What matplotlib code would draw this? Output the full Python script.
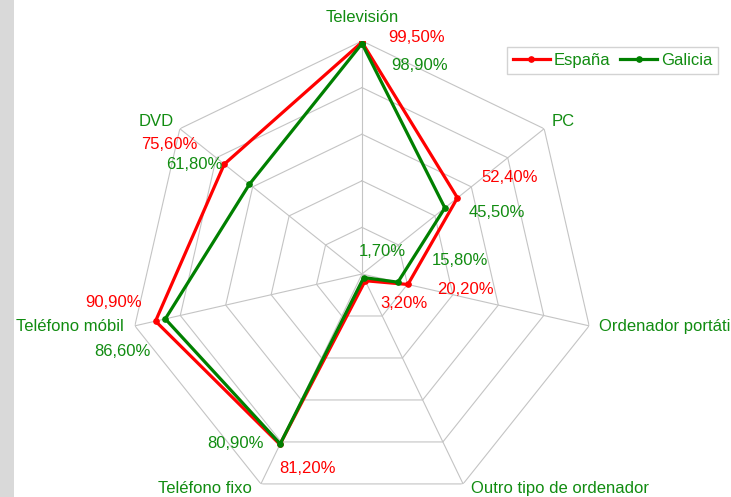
import numpy as np
import matplotlib
matplotlib.use('Agg')
import matplotlib.pyplot as plt
from matplotlib.patches import Rectangle

plt.rcParams['font.family'] = ['Liberation Sans', 'DejaVu Sans']

# data (percent)
categories = ['Televisión', 'PC', 'Ordenador portátil', 'Outro tipo de ordenador',
              'Teléfono fixo', 'Teléfono móbil', 'DVD']
espana = [99.5, 52.4, 20.2, 3.2, 81.2, 90.9, 75.6]
galicia = [98.9, 45.5, 15.8, 1.7, 80.9, 86.6, 61.8]
espana_labels = ['99,50%', '52,40%', '20,20%', '3,20%', '81,20%', '90,90%', '75,60%']
galicia_labels = ['98,90%', '45,50%', '15,80%', '1,70%', '80,90%', '86,60%', '61,80%']

RED = '#ff0000'
GREEN = '#008000'
TXT_GREEN = '#118c11'
GRID = '#c4c4c4'

fig = plt.figure(figsize=(7.31, 4.97), dpi=100)
fig.patches.append(Rectangle((0, 0), 14 / 731, 1, transform=fig.transFigure,
                             facecolor='#d9d9d9', edgecolor='none', zorder=0))

# center at (362, 274) px, radius 233 px
ax = fig.add_axes([(362 - 233) / 731, (223 - 233) / 497, 466 / 731, 466 / 497],
                  projection='polar')
ax.set_theta_zero_location('N')
ax.set_theta_direction(-1)
ax.set_ylim(0, 100)
ax.grid(False)
ax.spines['polar'].set_visible(False)
ax.set_xticks([])
ax.set_yticks([])
ax.patch.set_alpha(0)

n = len(categories)
ang = np.arange(n) * 2 * np.pi / n
ang_c = np.append(ang, ang[0])

# heptagonal grid
for r in [20, 40, 60, 80, 100]:
    ax.plot(ang_c, [r] * (n + 1), color=GRID, lw=0.8, zorder=1)
for a in ang:
    ax.plot([a, a], [0, 100], color=GRID, lw=0.8, zorder=1)

ax.plot(ang_c, np.append(espana, espana[0]), color=RED, lw=2.3,
        marker='o', ms=3.8, label='España', zorder=3)
ax.plot(ang_c, np.append(galicia, galicia[0]), color=GREEN, lw=2.3,
        marker='o', ms=3.8, label='Galicia', zorder=4)

# category labels (offsets in pixels from outer vertex)
cat_pos = [((0, 23), 'center'), ((7, 7), 'left'), ((10, -1), 'left'),
           ((8, -5), 'left'), ((-9, -5), 'right'), ((-11, -1), 'right'),
           ((-6, 7), 'right')]
for a, c, (off, ha) in zip(ang, categories, cat_pos):
    ax.annotate(c, (a, 100), xytext=off, textcoords='offset pixels',
                ha=ha, va='center', fontsize=12, color=TXT_GREEN,
                annotation_clip=False)

# data labels
esp_off = [(55, 5), (52, 20), (58, -5), (39, -23), (28, -24), (-42, 19), (-55, 20)]
gal_off = [(58, -22), (52, -5), (62, 22), (19, 26), (-45, 0), (-43, -33), (-55, 20)]
for a, v, t, off in zip(ang, espana, espana_labels, esp_off):
    ax.annotate(t, (a, v), xytext=off, textcoords='offset pixels',
                ha='center', va='center', fontsize=12, color=RED,
                annotation_clip=False)
for a, v, t, off in zip(ang, galicia, galicia_labels, gal_off):
    ax.annotate(t, (a, v), xytext=off, textcoords='offset pixels',
                ha='center', va='center', fontsize=12, color=TXT_GREEN,
                annotation_clip=False)

leg = fig.legend(loc='upper left', bbox_to_anchor=(507 / 731, 1 - 47 / 497),
                 ncol=2, fontsize=12, frameon=True, fancybox=False,
                 handlelength=2.2, handletextpad=0.25, columnspacing=0.6,
                 borderpad=0.35, borderaxespad=0)
leg.get_frame().set_edgecolor('#c8c8c8')
leg.get_frame().set_linewidth(1.0)
for txt in leg.get_texts():
    txt.set_color(TXT_GREEN)

fig.savefig('out.png', dpi=100)
